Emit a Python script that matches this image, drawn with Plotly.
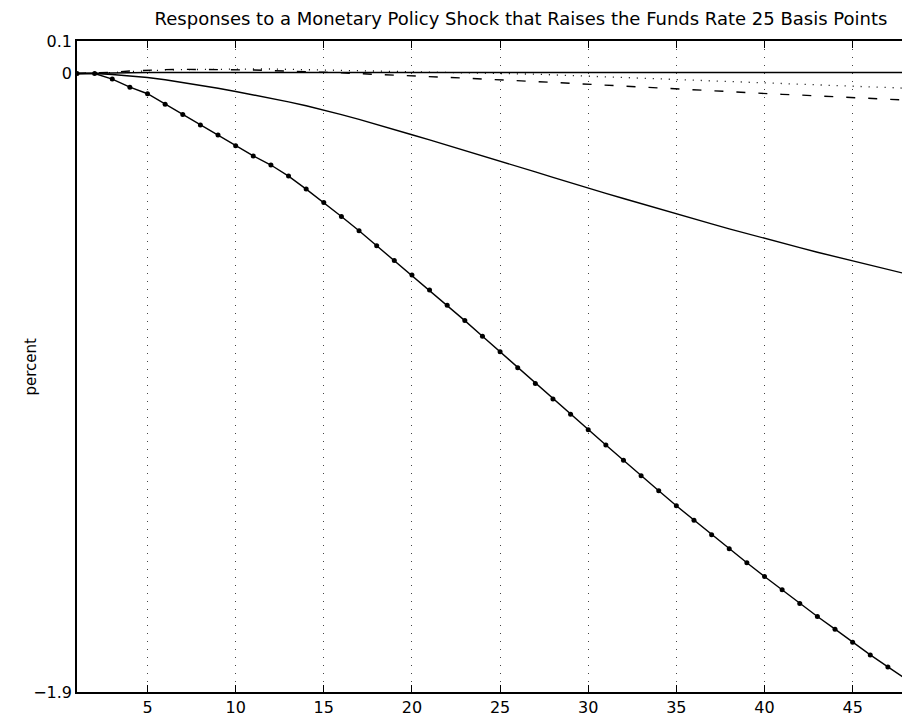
import plotly.graph_objects as go

# Forecast horizon (months after the shock)
months = list(range(1, 49))

# Response with markers (steepest decline)
resp_marked = [
    0.000, 0.000, -0.017, -0.042, -0.062, -0.094, -0.126, -0.158, -0.189, -0.222,
    -0.253, -0.281, -0.315, -0.355, -0.396, -0.439, -0.483, -0.529, -0.574, -0.619,
    -0.665, -0.712, -0.759, -0.807, -0.855, -0.904, -0.952, -1.000, -1.047, -1.094,
    -1.141, -1.188, -1.236, -1.282, -1.328, -1.372, -1.417, -1.460, -1.503, -1.545,
    -1.586, -1.628, -1.668, -1.707, -1.747, -1.786, -1.823, -1.859,
]

# Response, solid line (moderate decline)
resp_solid = [
    0.000, 0.000, -0.003, -0.007, -0.012, -0.019, -0.027, -0.036, -0.045, -0.055,
    -0.065, -0.076, -0.087, -0.099, -0.112, -0.126, -0.141, -0.156, -0.172, -0.188,
    -0.204, -0.220, -0.236, -0.252, -0.268, -0.285, -0.302, -0.319, -0.336, -0.352,
    -0.368, -0.384, -0.400, -0.416, -0.432, -0.447, -0.462, -0.477, -0.492, -0.507,
    -0.521, -0.535, -0.549, -0.562, -0.575, -0.588, -0.600, -0.615,
]

# Response, dashed line
resp_dashed = [
    0.000, 0.001, 0.004, 0.008, 0.011, 0.012, 0.013, 0.013, 0.013, 0.012,
    0.011, 0.009, 0.008, 0.006, 0.004, 0.002, 0.000, -0.002, -0.004, -0.007,
    -0.010, -0.012, -0.014, -0.017, -0.019, -0.021, -0.024, -0.027, -0.030, -0.033,
    -0.035, -0.038, -0.040, -0.044, -0.047, -0.051, -0.054, -0.057, -0.059, -0.062,
    -0.064, -0.066, -0.069, -0.072, -0.074, -0.077, -0.079, -0.081,
]

# Response, dotted line
resp_dotted = [
    0.000, 0.001, 0.003, 0.006, 0.009, 0.011, 0.012, 0.013, 0.013, 0.014,
    0.014, 0.014, 0.013, 0.013, 0.012, 0.011, 0.010, 0.009, 0.008, 0.007,
    0.006, 0.005, 0.004, 0.002, 0.000, -0.001, -0.002, -0.004, -0.006, -0.008,
    -0.010, -0.012, -0.015, -0.017, -0.019, -0.021, -0.023, -0.025, -0.027, -0.029,
    -0.031, -0.033, -0.035, -0.037, -0.039, -0.041, -0.043, -0.045,
]

# Response, flat solid line near zero
resp_flat = [0.000, 0.001] + [0.003] * 46

x_ticks = [5, 10, 15, 20, 25, 30, 35, 40, 45]
y_ticks = [0.1, 0.0, -1.9]
y_tick_text = ["0.1", "0", "\u22121.9"]

title_text = "Responses to a Monetary Policy Shock that Raises the Funds Rate 25 Basis Points"
font_family = "DejaVu Sans"

fig = go.Figure()

fig.add_trace(go.Scatter(x=months, y=resp_flat, mode="lines",
                         line=dict(color="black", width=1.4)))
fig.add_trace(go.Scatter(x=months, y=resp_dotted, mode="lines",
                         line=dict(color="black", width=1.3, dash="1px,7px")))
fig.add_trace(go.Scatter(x=months, y=resp_dashed, mode="lines",
                         line=dict(color="black", width=1.4, dash="9px,13px")))
fig.add_trace(go.Scatter(x=months, y=resp_solid, mode="lines",
                         line=dict(color="black", width=1.4)))
fig.add_trace(go.Scatter(x=months, y=resp_marked, mode="lines+markers",
                         line=dict(color="black", width=1.4),
                         marker=dict(color="black", size=5)))

fig.update_layout(
    width=902, height=716,
    margin=dict(l=77, r=0, t=41, b=24),
    paper_bgcolor="white", plot_bgcolor="white",
    showlegend=False,
    font=dict(family=font_family, color="black", size=16),
    title=dict(text=title_text, x=521 / 902, xref="container", xanchor="center",
               y=1 - 19 / 716, yref="container", yanchor="middle",
               font=dict(family=font_family, size=18, color="black")),
    xaxis=dict(
        range=[1, 47.8], tickmode="array", tickvals=x_ticks,
        ticks="inside", ticklen=7, tickwidth=1.2, tickcolor="black",
        showline=True, linecolor="black", linewidth=1.5, mirror="ticks",
        showgrid=True, gridcolor="#444444", gridwidth=1, griddash="1px,7px",
        zeroline=False, automargin=False,
        tickfont=dict(size=16, family=font_family),
    ),
    yaxis=dict(
        range=[-1.9, 0.1], tickmode="array", tickvals=y_ticks, ticktext=y_tick_text,
        ticks="inside", ticklen=7, tickwidth=1.2, tickcolor="black",
        showline=True, linecolor="black", linewidth=1.5,
        showgrid=False, zeroline=False, automargin=False,
        tickfont=dict(size=16, family=font_family),
    ),
    annotations=[dict(text="percent", textangle=-90, xref="paper", yref="paper",
                      x=-47 / 825, y=0.5, xanchor="center", yanchor="middle",
                      showarrow=False, font=dict(size=15, family=font_family))],
)

fig.write_html("out.html")
